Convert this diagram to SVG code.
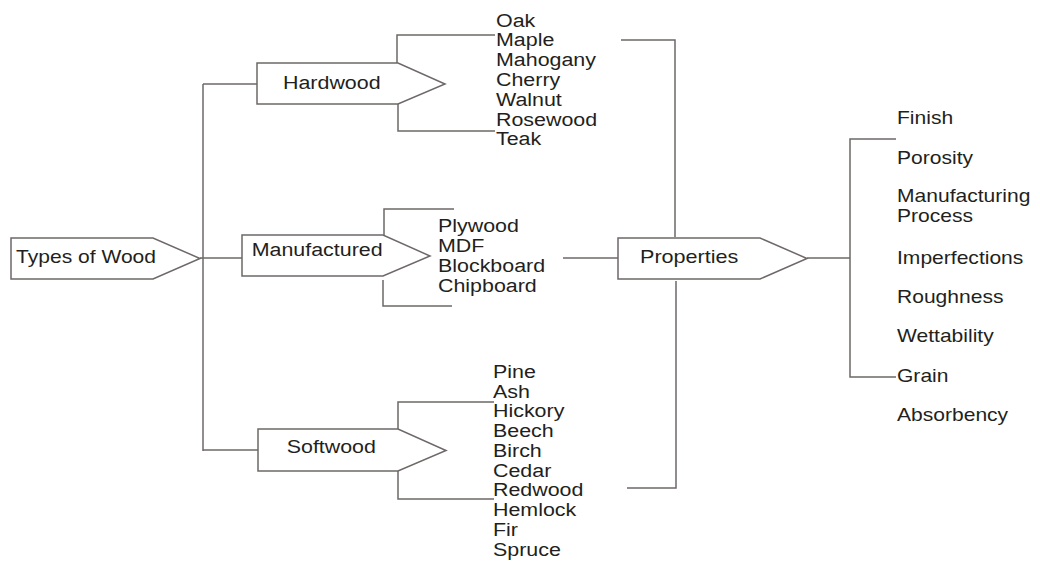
<svg xmlns="http://www.w3.org/2000/svg" width="1040" height="561" viewBox="0 0 1040 561">
<style>
.node{fill:#fff;stroke:#6e6868;stroke-width:1.5}
.conn path{fill:none;stroke:#6e6868;stroke-width:1.5}
text{font-family:"Liberation Sans",Arial,sans-serif;font-size:18px;fill:#231f20}
</style>
<rect width="1040" height="561" fill="#fff"/>
<g id="connectors" class="conn">
<path d="M203,84 V451"/>
<path d="M203,84 H257"/>
<path d="M200,258 H242"/>
<path d="M203,450 H258"/>
<path d="M397,63 V35 H495"/>
<path d="M398,104 V131 H495"/>
<path d="M384,235 V209 H454"/>
<path d="M383,280 V306 H452"/>
<path d="M398,429 V402 H494"/>
<path d="M398,471 V499 H494"/>
<path d="M621,40 H675 V237"/>
<path d="M676,281 V488 H627"/>
<path d="M563,258 H618"/>
<path d="M807,258 H850"/>
<path d="M896,139 H850 V377 H896"/>
</g>
<g id="types-of-wood">
<polygon class="node" points="11,238 153,238 200,258.5 153,279 11,279"/>
<text transform="translate(16,262.7) scale(1.17,1)">Types of Wood</text>
</g>
<g id="hardwood">
<polygon class="node" points="257,63 398,63 445,84 398,104 257,104"/>
<text transform="translate(283,89.3) scale(1.19,1)">Hardwood</text>
</g>
<g id="manufactured">
<polygon class="node" points="242,235 383,235 430,256 383,276 242,276"/>
<text transform="translate(251.7,256) scale(1.19,1)">Manufactured</text>
</g>
<g id="softwood">
<polygon class="node" points="258,429 398,429 446,450.5 398,471 258,471"/>
<text transform="translate(286.7,452.7) scale(1.19,1)">Softwood</text>
</g>
<g id="properties">
<polygon class="node" points="618,238 760,238 807,258.5 760,279 618,279"/>
<text transform="translate(640,262.7) scale(1.2,1)">Properties</text>
</g>
<g id="hardwood-list">
<text transform="translate(496,0) scale(1.19,1)"><tspan x="0" y="26.7">Oak</tspan><tspan x="0" y="46.5">Maple</tspan><tspan x="0" y="66.3">Mahogany</tspan><tspan x="0" y="86.1">Cherry</tspan><tspan x="0" y="105.9">Walnut</tspan><tspan x="0" y="125.7">Rosewood</tspan><tspan x="0" y="145.5">Teak</tspan></text>
</g>
<g id="manufactured-list">
<text transform="translate(438,0) scale(1.19,1)"><tspan x="0" y="232">Plywood</tspan><tspan x="0" y="252">MDF</tspan><tspan x="0" y="272">Blockboard</tspan><tspan x="0" y="292">Chipboard</tspan></text>
</g>
<g id="softwood-list">
<text transform="translate(493,0) scale(1.19,1)"><tspan x="0" y="378">Pine</tspan><tspan x="0" y="397.8">Ash</tspan><tspan x="0" y="417.5">Hickory</tspan><tspan x="0" y="437.3">Beech</tspan><tspan x="0" y="457">Birch</tspan><tspan x="0" y="476.8">Cedar</tspan><tspan x="0" y="496.5">Redwood</tspan><tspan x="0" y="516.3">Hemlock</tspan><tspan x="0" y="536">Fir</tspan><tspan x="0" y="555.8">Spruce</tspan></text>
</g>
<g id="properties-list">
<text transform="translate(897,0) scale(1.17,1)"><tspan x="0" y="124">Finish</tspan><tspan x="0" y="164">Porosity</tspan><tspan x="0" y="202.5">Manufacturing</tspan><tspan x="0" y="222.5">Process</tspan><tspan x="0" y="264">Imperfections</tspan><tspan x="0" y="303">Roughness</tspan><tspan x="0" y="342">Wettability</tspan><tspan x="0" y="381.7">Grain</tspan><tspan x="0" y="421">Absorbency</tspan></text>
</g>
</svg>
